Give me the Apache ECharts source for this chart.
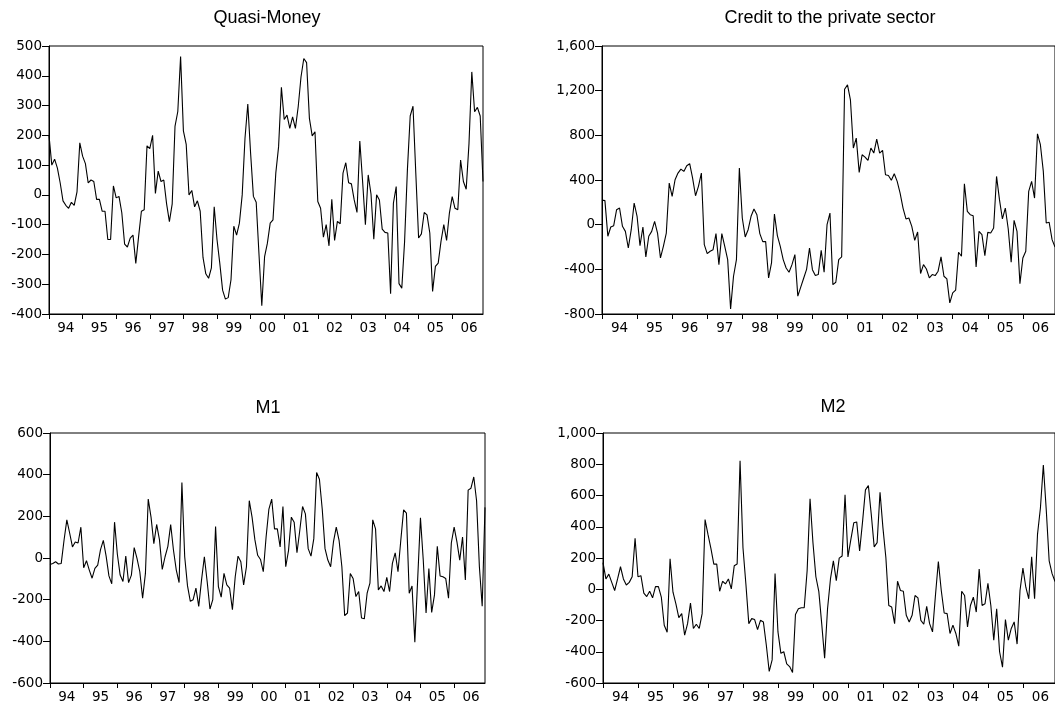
<!DOCTYPE html>
<html>
<head>
<meta charset="utf-8">
<script src="https://cdn.jsdelivr.net/npm/echarts@6/dist/echarts.min.js"></script>
<style>
html,body{margin:0;padding:0;background:#fff;}
#chart{width:1055px;height:704px;}
</style>
</head>
<body>
<div id="chart"></div>
<script>
// ---- data ----
var years = [1994,1995,1996,1997,1998,1999,2000,2001,2002,2003,2004,2005,2006];
var yearLabels = ['94','95','96','97','98','99','00','01','02','03','04','05','06'];
var titles = ['Quasi-Money','Credit to the private sector','M1','M2'];

var quasiMoney = [
200,100,120,90,40,-20,-35,-45,-25,-35,10,175,
130,105,40,50,45,-15,-15,-55,-55,-150,-150,30,
-10,-5,-60,-165,-175,-145,-135,-230,-140,-55,-50,165,
155,200,5,80,45,50,-30,-90,-30,230,280,465,
215,170,0,15,-40,-20,-55,-210,-265,-280,-245,-40,
-150,-230,-320,-350,-345,-285,-105,-135,-95,0,190,305,
140,-5,-25,-200,-372,-207,-162,-95,-84,73,162,361,
253,268,223,262,223,296,396,458,444,257,198,212,
-22,-45,-142,-100,-171,-15,-153,-89,-97,73,108,41,
37,-17,-59,181,45,-100,67,3,-149,0,-17,-115,
-126,-128,-332,-28,28,-298,-313,-156,84,265,298,73,
-145,-131,-59,-67,-128,-324,-240,-229,-156,-100,-153,-61,
-6,-45,-50,117,45,19,173,413,279,294,265,45
];

var credit = [
220,215,-104,-21,-9,134,149,-15,-60,-209,-45,194,
75,-188,-21,-289,-104,-60,30,-75,-298,-194,-75,373,
253,402,462,498,477,528,546,417,259,343,462,-179,
-259,-238,-224,-80,-358,-80,-194,-313,-754,-462,-313,507,
60,-110,-45,75,140,89,-80,-152,-152,-477,-343,95,
-98,-194,-313,-388,-426,-358,-268,-640,-560,-480,-400,-209,
-403,-456,-447,-230,-426,0,104,-537,-516,-313,-289,1213,
1252,1118,686,775,468,626,605,575,686,641,766,641,
665,447,441,397,456,388,283,149,51,60,-15,-140,
-66,-438,-358,-397,-477,-447,-456,-417,-289,-462,-486,-701,
-611,-587,-247,-283,367,119,89,80,-379,-60,-89,-277,
-69,-75,-30,432,224,51,149,-39,-337,39,-60,-528,
-298,-238,298,388,238,814,716,477,15,21,-134,-200
];

var m1 = [
-31,-26,-18,-29,-26,85,183,120,53,77,72,148,
-47,-13,-58,-97,-50,-34,40,85,9,-86,-124,172,
18,-82,-113,9,-118,-82,50,-2,-66,-193,-74,283,
196,69,161,88,-55,6,56,161,37,-58,-118,362,
6,-134,-208,-200,-145,-232,-105,6,-113,-245,-200,151,
-137,-188,-74,-129,-145,-248,-90,9,-18,-129,-42,275,
196,88,13,-7,-66,101,235,283,140,140,53,247,
-42,37,196,172,25,132,247,212,45,9,93,410,
378,235,45,-10,-42,77,148,85,-42,-277,-264,-74,
-98,-185,-161,-288,-292,-169,-121,183,140,-153,-134,-161,
-93,-161,-26,25,-66,85,231,215,-169,-134,-404,-105,
193,-10,-264,-50,-261,-177,56,-86,-90,-98,-193,72,
148,77,-10,101,-105,326,335,389,275,-42,-232,243
];

var m2 = [
171,66,97,44,-8,66,144,66,27,44,80,326,
80,87,-25,-47,-13,-55,17,17,-50,-230,-275,195,
-19,-93,-182,-156,-294,-220,-89,-251,-224,-251,-156,446,
351,262,161,161,-13,51,34,66,2,150,161,822,
266,34,-220,-188,-194,-258,-199,-209,-357,-526,-452,101,
-273,-410,-400,-478,-495,-533,-161,-125,-118,-118,118,579,
298,80,-13,-220,-442,-125,66,182,55,199,213,605,
207,319,425,431,245,431,636,664,478,271,298,621,
393,203,-104,-114,-220,51,-8,-13,-167,-209,-167,-40,
-55,-199,-224,-110,-220,-273,-40,178,-8,-152,-156,-283,
-230,-283,-364,-13,-40,-241,-104,-51,-146,129,-104,-93,
38,-104,-326,-125,-400,-499,-194,-326,-251,-209,-351,-8,
135,13,-61,207,-61,351,520,795,509,182,100,50
];

var yRanges = [
  {min:-400, max:500, interval:100},
  {min:-800, max:1600, interval:400},
  {min:-600, max:600, interval:200},
  {min:-600, max:1000, interval:200}
];

// ---- build ----
var months = [];
years.forEach(function(y){
  for (var m = 1; m <= 12; m++) months.push(y + '-' + (m < 10 ? '0' + m : m));
});
var seriesData = [quasiMoney, credit, m1, m2];

var TITLE_FONT = '"Liberation Sans", Arial, Helvetica, sans-serif';
var TICK_FONT = '"DejaVu Sans", "Liberation Sans", Arial, sans-serif';
var grids = [
  {left:49, top:46, width:434, height:268},
  {left:602, top:46, width:455, height:268},
  {left:50, top:433, width:435, height:253},
  {left:603, top:433, width:456, height:252}
];
var titlePos = [[267,18],[830,18],[268,408],[833,407]];

function fmt(v){
  var s = Math.abs(v).toString().replace(/\B(?=(\d{3})+(?!\d))/g, ',');
  return (v < 0 ? '-' : '') + s;
}

var option = {
  animation:false,
  backgroundColor:'#fff',
  grid: grids.map(function(g){
    return Object.assign({show:true, borderColor:'#000', borderWidth:1, backgroundColor:'transparent', containLabel:false}, g);
  }),
  xAxis: grids.map(function(g, k){
    return {
      type:'category', gridIndex:k, data:months, boundaryGap:false,
      axisLine:{show:true, onZero:false, lineStyle:{color:'#000', width:1}},
      axisTick:{show:true, length:5, lineStyle:{color:'#000'},
        interval:function(i){ return i % 12 === 0; }},
      axisLabel:{show:true, color:'#000', fontSize:13.5, fontFamily:TICK_FONT, margin:7,
        interval:function(i){ return i % 12 === 6; },
        formatter:function(v, i){ return yearLabels[Math.floor(i/12)]; }},
      splitLine:{show:false}
    };
  }),
  yAxis: yRanges.map(function(r, k){
    return {
      type:'value', gridIndex:k, min:r.min, max:r.max, interval:r.interval,
      axisLine:{show:true, onZero:false, lineStyle:{color:'#000', width:1}},
      axisTick:{show:true, length:7, lineStyle:{color:'#000'}},
      axisLabel:{color:'#000', fontSize:13.5, fontFamily:TICK_FONT, margin:7, formatter:fmt},
      splitLine:{show:false}
    };
  }),
  series: seriesData.map(function(d, k){
    return {
      type:'line', xAxisIndex:k, yAxisIndex:k, data:d,
      showSymbol:false, symbol:'none',
      lineStyle:{color:'#000', width:1.1},
      clip:true
    };
  }),
  graphic: titles.map(function(t, k){
    return {
      type:'text', x:titlePos[k][0], y:titlePos[k][1],
      style:{text:t, fill:'#000', fontSize:18, fontFamily:TITLE_FONT,
        align:'center', verticalAlign:'middle'}
    };
  })
};

var chart = echarts.init(document.getElementById('chart'), null, {renderer:'canvas'});
chart.setOption(option);
</script>
</body>
</html>
